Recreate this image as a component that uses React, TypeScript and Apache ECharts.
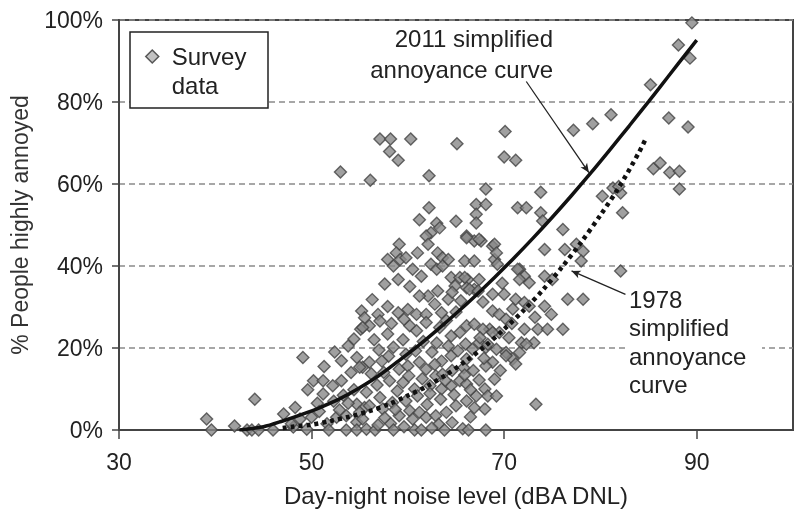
import React, { useEffect, useRef } from 'react';
import * as echarts from 'echarts';

const FONT = '"Liberation Sans", Arial, Helvetica, sans-serif';

const xTickValues = [30, 50, 70, 90];

const curve2011Dnl = [42.5, 45, 47, 49, 51, 53, 55, 57, 59, 61, 63, 65, 67, 69, 71, 73, 75, 77, 79, 81, 83, 85, 87, 89, 90];
const curve2011Pct = [0, 0.8, 2.2, 3.8, 5.6, 7.7, 10.3, 13.3, 16.8, 20.4, 24.3, 28.4, 32.7, 37.2, 41.9, 46.8, 51.9, 57.2, 62.7, 68.4, 74.2, 80.1, 86.1, 92.1, 95.1];

const curve1978Dnl = [47, 48, 50, 52, 54, 56, 58, 60, 62, 64, 66, 68, 70, 72, 74, 76, 78, 80, 82, 84, 84.7];
const curve1978Pct = [0.5, 0.8, 1.3, 2.2, 3.3, 4.6, 6.3, 8.4, 10.7, 13.5, 16.8, 20.4, 24.6, 29.1, 34.1, 39.7, 45.8, 52.4, 59.5, 67.7, 71];

const surveyPoints: [number, number][] = [
  // low DNL
  [39.1, 2.7], [39.6, 0], [42.0, 1.0], [43.3, 0], [43.8, 0], [44.5, 0], [44.1, 7.5], [46, 0], [47.1, 3.9], [48.1, 0.7],
  [47.9, 1.5], [48.3, 5.5], [48.8, 2.7], [49.1, 17.7], [49.5, 0.2], [50, 3.1], [50.2, 12], [50.6, 6.5], [51.2, 12], [51.2, 8.8],
  [51.6, 1.5], [52.2, 10.8], [52.6, 3.1], [53.1, 16.9], [53.1, 12], [53.6, 3.5], [53.6, 0], [54.1, 14], [54.7, 17.7], [54.7, 6.3],
  [54.7, 1.9], [54.7, 0], [55.1, 24.6], [55.3, 15.3], [55.5, 5.5], [55.7, 0.2], [56.6, 0], [52.3, 7], [53.3, 8.5], [50.8, 4.5], [49.6, 9.8],
  // upper middle
  [53.0, 62.9], [56.1, 60.9], [57.1, 71], [58.2, 71], [60.3, 71], [58.1, 67.9], [59.0, 65.8], [62.2, 62], [65.1, 69.8], [70.1, 72.8],
  [70.0, 66.6], [71.2, 65.8], [68.1, 58.8], [73.8, 58], [62.2, 54.2], [67.1, 55], [68.1, 55], [71.4, 54.2], [72.3, 54.2], [61.2, 51.3],
  [63, 50.4], [63.3, 49.3], [62.4, 48.1], [61.9, 47.3], [65, 50.9], [67.1, 52.6], [67.1, 50.5], [66.1, 47.3], [66.9, 46.1], [62.1, 45.3],
  [59.1, 45.3], [58.8, 43.2], [57.9, 41.6], [59.2, 41.6], [59.8, 42], [58.5, 40], [61.0, 43.2], [63.1, 43.2], [63.6, 42], [64.2, 41.6],
  [62.4, 40.4], [63, 39.2], [63.6, 40], [60.5, 39.2], [59, 36.7], [65.9, 41.2], [66.9, 41.2], [64.5, 37.2], [65.4, 37.2], [66.2, 36.7],
  [64.9, 35.1], [66.1, 34.7], [66.9, 34.3], [63.1, 33.9], [62.1, 32.7], [61.2, 32.7], [62.8, 30.7], [64.2, 31.9], [57.9, 30.1], [56.9, 28.2],
  [55.2, 29], [55.5, 27.4], [59, 28.6], [60, 29.4], [60.9, 28.2], [61.9, 28.2], [57.1, 26.6], [56, 25.4],
  // high DNL
  [89.5, 99.3], [88.1, 93.9], [89.3, 90.7], [85.2, 84.2], [81.1, 76.9], [79.2, 74.7], [77.2, 73.1], [87.1, 76.1], [89.1, 73.9], [85.5, 63.7],
  [86.2, 65.1], [87.2, 62.8], [88.2, 63.1], [88.2, 58.8], [81.3, 59], [82.1, 57.8], [80.2, 57], [81.9, 59.4], [82.3, 53], [73.8, 53],
  [74, 51], [76.1, 48.9], [74.2, 44], [76.3, 44], [77.5, 45.3], [78.2, 43.6], [78, 41.2], [82.1, 38.8], [68.8, 44.8], [69, 41.6],
  [71.6, 39.2], [72.1, 37.5], [74.2, 37.5], [75, 36.7], [72.6, 35.9], [76.6, 31.9], [78.2, 31.9], [68.8, 33.1], [70, 33.1], [71.2, 31.9],
  [72.1, 31.1], [72.6, 30.2], [74.2, 30.2], [68.8, 29], [69.5, 28.2], [70.2, 27], [72.1, 24.6], [73.5, 24.6], [74.5, 24.6], [76.1, 24.6],
  [73.1, 21.3], [71.8, 21.3], [68.5, 24.6], [69.5, 23.8], [68.1, 20.1], [69.2, 19.7], [70.2, 18.9], [70.9, 17.3], [71.2, 16.1], [68.8, 16.5],
  [68.1, 15.6], [69, 12.4], [68, 10], [68.3, 8.3], [73.3, 6.3], [68, 5.1], [68.1, 0], [69, 45.3], [69.2, 43.2], [67.6, 46.1],
  [66.1, 46.9], [69.3, 40.4], [71.4, 39.2], [71.6, 36.7], [65.9, 37.2], [67.4, 36.7], [66.4, 34.3], [67.3, 33.9], [67.4, 46.5],
  // dense core
  [55.3, 25], [57.9, 23.4], [60.2, 25.4], [60.9, 24.2], [61.9, 26.2], [63.3, 25], [64.5, 22.9], [65.4, 23.8], [66.1, 25.4], [66.9, 25.8],
  [67.8, 24.6], [68.8, 23.8], [64.5, 18.1], [65.2, 19.3], [66.1, 17.3], [66.7, 19.7], [67.4, 21.3], [68.3, 20.9], [70.2, 18.1], [71.6, 18.9],
  [72.3, 20.9], [55, 15.3], [56, 16.5], [59.1, 14.8], [60, 15.6], [61.2, 16.5], [61.9, 14.8], [62.9, 13.2], [63.6, 13.6], [58.1, 12],
  [59.5, 11.6], [60.7, 10], [62.3, 10.8], [63.5, 10], [64.5, 10.8], [65.4, 12], [66.1, 11.2], [67.1, 8.3], [69.2, 8.3], [55.7, 9.2],
  [57.1, 7.9], [58.4, 6.7], [59.8, 7.1], [56, 5.9], [57.4, 5.1], [60.2, 4.7], [61.2, 4.3], [59.1, 3.5], [60.5, 2.7], [61.9, 3.1],
  [62.9, 3.5], [64, 4.3], [65, 5.9], [66.1, 7.1], [60.7, 0], [61.4, 0], [55, 4.3], [55.3, 2.7],
  [57, 19.5], [58.5, 20.2], [59.5, 22], [62.5, 19], [63.5, 16.8], [63, 21.2], [66, 21], [67.5, 22.5], [70.5, 22.5], [70.8, 26],
  [57.5, 14], [56.8, 11], [58.9, 9.5], [61, 8.3], [62, 6.2], [63.4, 7.5], [64.6, 14.5], [66.8, 14.5], [67.4, 12.2], [64.8, 8.6],
  [66.5, 3.2], [63.2, 1.4], [58.2, 1.6], [57.6, 3], [56.9, 1.2], [59.6, 0.8], [62.5, 0.5], [64.6, 1.8], [65.7, 0.3], [66.9, 5.4],
  [60.8, 19.3], [61.6, 21.6], [64, 26.7], [65, 28.8], [63.5, 28.6], [58.3, 26], [59.6, 27],
  [56.5, 22], [58, 18], [59.8, 18.5], [61.5, 12.5], [62.8, 16], [64.2, 20.5], [65.8, 15.2], [66.5, 9.8], [67.9, 17.5], [69.6, 14.5],
  [70.9, 29.5], [73.2, 27.5], [69.8, 35.8], [67.8, 31.2], [65.5, 31.5], [64.6, 33.6], [60.2, 35], [61.4, 37.5], [57.6, 35.6], [56.3, 31.8],
  [54.4, 22.2], [53.8, 20.5], [52.4, 19], [51.3, 15.5], [57.3, 16.8], [58.7, 5], [62.3, 8.9], [63.9, 12.1], [65.9, 13.4], [60.1, 13.2],
  [56.2, 13.7], [54.4, 9.8], [53.8, 6.5], [52.9, 4.9], [51.8, 0], [58.5, 0], [63.8, 0], [66.3, 0], [74.9, 28.2],
];

const arrow2011: [number, number][] = [[72.3, 85], [78.8, 62.8]];
const arrow1978: [number, number][] = [[82.6, 33.1], [77.0, 38.8]];

const TEXT = '#222';
const AXIS = '#444';

export default function App() {
  const ref = useRef<HTMLDivElement>(null);
  useEffect(() => {
    document.body.style.margin = '0';
    if (!ref.current) return;
    const chart = echarts.init(ref.current, null, { renderer: 'svg' });
    const arrowLine = (pts: [number, number][]) => ({
      silent: true,
      symbol: ['none', 'arrow'],
      symbolSize: [6, 9],
      label: { show: false },
      lineStyle: { color: '#222', width: 1.3, type: 'solid' },
      data: [[{ coord: pts[0] }, { coord: pts[1] }]],
    });
    chart.setOption({
      animation: false,
      textStyle: { fontFamily: FONT },
      grid: { left: 119, right: 4, top: 20, bottom: 81, show: true, borderColor: AXIS, borderWidth: 2, backgroundColor: 'transparent' },
      legend: {
        show: true,
        left: 145,
        top: 13,
        padding: 0,
        itemWidth: 13,
        itemHeight: 13,
        icon: 'diamond',
        selectedMode: false,
        data: ['Survey data'],
        itemStyle: { color: '#b3b3b3', borderColor: '#333', borderWidth: 1.5 },
        formatter: () => '\n{p|Survey}\n{p|data}',
        textStyle: {
          fontFamily: FONT, fontSize: 24, lineHeight: 29, color: TEXT,
          rich: { p: { fontFamily: FONT, fontSize: 24, lineHeight: 29, color: TEXT, padding: [0, 0, 0, 8] } },
        },
      },
      xAxis: {
        type: 'value', min: 30, max: 100, interval: 10,
        name: 'Day-night noise level (dBA DNL)', nameLocation: 'middle', nameGap: 53,
        nameTextStyle: { fontSize: 24, color: TEXT, fontFamily: FONT },
        axisLine: { show: true, onZero: false, lineStyle: { color: AXIS, width: 2 } },
        axisTick: { show: true, customValues: xTickValues, length: 9, lineStyle: { color: AXIS, width: 1.5 } },
        axisLabel: { customValues: xTickValues, fontSize: 23, color: TEXT, margin: 20, fontFamily: FONT },
        splitLine: { show: false },
      },
      yAxis: {
        type: 'value', min: 0, max: 100, interval: 20,
        name: '% People highly annoyed', nameLocation: 'middle', nameGap: 88,
        nameTextStyle: { fontSize: 23, color: '#333', fontFamily: FONT },
        axisLine: { show: true, lineStyle: { color: AXIS, width: 2 } },
        axisTick: { show: true, length: 7, lineStyle: { color: AXIS, width: 1.5 } },
        axisLabel: { formatter: '{value}%', fontSize: 23, color: TEXT, margin: 16, fontFamily: FONT },
        splitLine: { show: true, lineStyle: { color: '#8a8a8a', width: 1.5, type: [6, 4] } },
      },
      graphic: [
        { type: 'rect', z: 3, shape: { x: 130, y: 32, width: 138, height: 76 }, style: { fill: '#fff', stroke: '#222', lineWidth: 1.5 } },
        { type: 'rect', z: 1, shape: { x: 626, y: 284, width: 136, height: 116 }, style: { fill: '#fff' } },
        {
          type: 'text', z: 5, x: 553, y: 23,
          style: { text: '2011 simplified\nannoyance curve', font: `24px ${FONT}`, fill: TEXT, align: 'right', textAlign: 'right', verticalAlign: 'top', textVerticalAlign: 'top', lineHeight: 31 },
        },
        {
          type: 'text', z: 5, x: 629, y: 285,
          style: { text: '1978\nsimplified\nannoyance\ncurve', font: `24px ${FONT}`, fill: TEXT, align: 'left', textAlign: 'left', verticalAlign: 'top', textVerticalAlign: 'top', lineHeight: 28.5 },
        },
      ],
      series: [
        {
          name: 'Survey data', type: 'scatter', z: 2,
          symbol: 'diamond', symbolSize: 12,
          itemStyle: { color: '#888', borderColor: '#444', borderWidth: 1.4 },
          data: surveyPoints,
        },
        {
          name: '2011 simplified annoyance curve', type: 'line', z: 4, smooth: 0.3,
          showSymbol: false, symbol: 'none',
          lineStyle: { color: '#111', width: 3.5 },
          data: curve2011Dnl.map((x, i) => [x, curve2011Pct[i]]),
          markLine: arrowLine(arrow2011),
        },
        {
          name: '1978 simplified annoyance curve', type: 'line', z: 4, smooth: 0.3,
          showSymbol: false, symbol: 'none',
          lineStyle: { color: '#111', width: 4.5, type: [4, 4] },
          data: curve1978Dnl.map((x, i) => [x, curve1978Pct[i]]),
          markLine: arrowLine(arrow1978),
        },
      ],
    });
    return () => chart.dispose();
  }, []);
  return <div ref={ref} style={{ position: 'fixed', left: 0, top: 0, width: 797, height: 512 }} />;
}
